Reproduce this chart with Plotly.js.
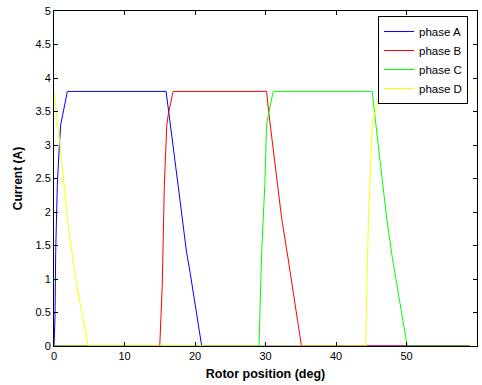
<!DOCTYPE html>
<html>
<head>
<meta charset="utf-8">
<script src="https://cdn.plot.ly/plotly-3.0.1.min.js"></script>
<style>html,body{margin:0;padding:0;background:#fff;}#chart{width:482px;height:385px;}</style>
</head>
<body>
<div id="chart"></div>
<script>
// Phase currents vs rotor position
var phaseAx = [0, 0.14, 0.24, 0.47, 0.76, 0.95, 1.23, 1.9, 15.9, 16.3, 17.6, 18.8, 19.3, 20.95, 59];
var phaseAy = [0, 0.42, 1.41, 2.4, 3.0, 3.3, 3.45, 3.8, 3.8, 3.45, 2.4, 1.4, 1.1, 0, 0];

var phaseBx = [0, 15.0, 15.35, 15.65, 16.0, 16.2, 16.9, 30.15, 30.5, 32.3, 33.2, 35.1, 59];
var phaseBy = [0, 0, 0.9, 2.4, 3.3, 3.45, 3.8, 3.8, 3.45, 1.9, 1.31, 0, 0];

var phaseCx = [0, 29.08, 29.45, 29.9, 30.15, 30.4, 31.1, 45.15, 45.5, 47.2, 48.0, 50.1, 59];
var phaseCy = [0, 0, 1.39, 2.4, 3.3, 3.45, 3.8, 3.8, 3.45, 1.9, 1.31, 0, 0];

var phaseDx = [0, 0.85, 2.0, 3.2, 4.87, 44.2, 44.6, 45.15, 45.4, 46.4, 59];
var phaseDy = [3.8, 3.0, 1.8, 0.91, 0, 0, 1.9, 3.3, 3.45, 3.8, 3.8];

var names = ['phase A', 'phase B', 'phase C', 'phase D'];
var colors = ['#0000ff', '#ff0000', '#00ff00', '#ffff00'];

var xTicks = [0, 10, 20, 30, 40, 50, 60];
var yTicks = [0, 0.5, 1, 1.5, 2, 2.5, 3, 3.5, 4, 4.5, 5];
var yTickText = ['0', '0.5', '1', '1.5', '2', '2.5', '3', '3.5', '4', '4.5', '5'];

var xs = [phaseAx, phaseBx, phaseCx, phaseDx];
var ys = [phaseAy, phaseBy, phaseCy, phaseDy];
var data = [];
for (var i = 0; i < 4; i++) {
  data.push({
    x: xs[i], y: ys[i], name: names[i], type: 'scatter', mode: 'lines',
    line: {color: colors[i], width: 1}
  });
}

var FONT = 'Liberation Sans, Arial, sans-serif';
var axisCommon = {
  showgrid: false, zeroline: false, showline: true, linecolor: '#000', linewidth: 1,
  mirror: 'ticks', ticks: 'inside', ticklen: 4, tickcolor: '#000',
  tickfont: {family: FONT, size: 11, color: '#000'}
};

var layout = {
  width: 482, height: 385,
  margin: {l: 54, r: 5, t: 11, b: 39},
  paper_bgcolor: '#fff', plot_bgcolor: '#fff',
  showlegend: true,
  legend: {
    x: 0.766, y: 0.985, xanchor: 'left', yanchor: 'top',
    bgcolor: '#fff', bordercolor: '#000', borderwidth: 1,
    font: {family: FONT, size: 11.5, color: '#000'},
    tracegroupgap: 0
  },
  xaxis: Object.assign({}, axisCommon, {
    range: [0, 60], tickvals: xTicks, ticktext: xTicks.map(String),
    title: {text: '<b>Rotor position (deg)</b>', standoff: 8,
      font: {family: FONT, size: 12.5, color: '#000'}}
  }),
  yaxis: Object.assign({}, axisCommon, {
    range: [0, 5], tickvals: yTicks, ticktext: yTickText,
    title: {text: '<b>Current (A)</b>', standoff: 10,
      font: {family: FONT, size: 12, color: '#000'}}
  })
};

Plotly.newPlot('chart', data, layout, {staticPlot: true, displayModeBar: false});
</script>
</body>
</html>
